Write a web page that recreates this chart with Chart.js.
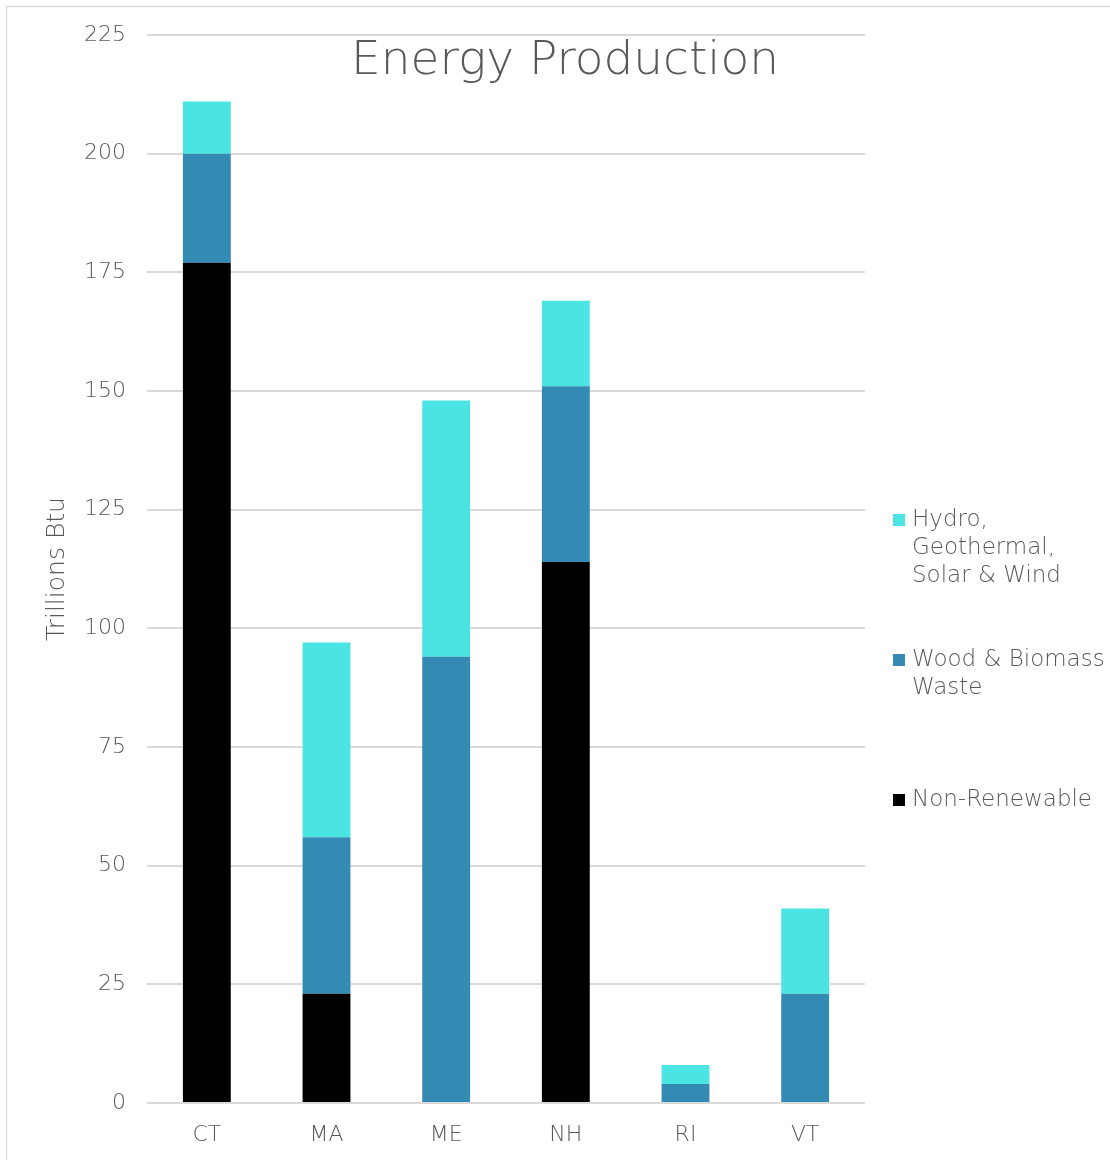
<!DOCTYPE html>
<html>
<head>
<meta charset="utf-8">
<title>Energy Production</title>
<script src="https://cdn.jsdelivr.net/npm/chart.js@4.4.1/dist/chart.umd.min.js"></script>
<style>
  html, body { margin: 0; padding: 0; background: #ffffff; }
  #wrap { width: 1110px; height: 1160px; position: relative; }
</style>
</head>
<body>
<div id="wrap"><canvas id="chart" width="1110" height="1160"></canvas></div>
<script>
// States along the x axis
const states = ["CT", "MA", "ME", "NH", "RI", "VT"];

// Production by source, trillions Btu
const nonRenewable = [177, 23, 0, 114, 0, 0];
const woodBiomass  = [23, 33, 94, 37, 4, 23];
const hydroEtc     = [11, 41, 54, 18, 4, 18];

// Series names (legend lines)
const seriesNames = {
  hydro: ["Hydro,", "Geothermal,", "Solar & Wind"],
  wood: ["Wood & Biomass", "Waste"],
  nonRenew: ["Non-Renewable"]
};

const chartTitle = "Energy Production";
const yAxisTitle = "Trillions Btu";

const FONT = "'DejaVu Sans', sans-serif";
const TEXT = "#595959";
const GRID = "#d9d9d9";

// Title drawn over the plot area, plus the right-hand legend and the frame
const decorations = {
  id: "decorations",
  afterDraw(chart) {
    const ctx = chart.ctx;
    const area = chart.chartArea;
    ctx.save();

    // frame (left and top edges)
    ctx.strokeStyle = "#dcdcdc";
    ctx.lineWidth = 1.5;
    ctx.beginPath();
    ctx.moveTo(6.5, 1160);
    ctx.lineTo(6.5, 6.5);
    ctx.lineTo(1110, 6.5);
    ctx.stroke();

    // title
    ctx.fillStyle = TEXT;
    ctx.font = "300 47px " + FONT;
    ctx.textAlign = "center";
    ctx.textBaseline = "alphabetic";
    ctx.fillText(chartTitle, (area.left + area.right) / 2 + 59, 74);

    // legend, reversed stacking order (top series first)
    const items = chart.data.datasets.slice().reverse();
    const x0 = area.right + 28;
    let y = 520;
    ctx.textAlign = "left";
    ctx.textBaseline = "middle";
    ctx.font = "300 23px " + FONT;
    items.forEach(ds => {
      ctx.fillStyle = ds.backgroundColor;
      ctx.fillRect(x0, y - 6, 12, 12);
      ctx.fillStyle = TEXT;
      ds.legendLines.forEach((line, i) => {
        ctx.fillText(line, x0 + 19, y + i * 28);
      });
      y += 140;
    });
    ctx.restore();
  }
};

new Chart(document.getElementById("chart"), {
  type: "bar",
  data: {
    labels: states,
    datasets: [
      { label: "Non-Renewable", legendLines: seriesNames.nonRenew, data: nonRenewable, backgroundColor: "#000000" },
      { label: "Wood & Biomass Waste", legendLines: seriesNames.wood, data: woodBiomass, backgroundColor: "#338ab3" },
      { label: "Hydro, Geothermal, Solar & Wind", legendLines: seriesNames.hydro, data: hydroEtc, backgroundColor: "#4ae4e3" }
    ]
  },
  options: {
    responsive: false,
    animation: false,
    devicePixelRatio: 1,
    layout: { padding: { top: 35, right: 245, left: 0, bottom: 0 } },
    datasets: {
      bar: { barPercentage: 0.4, categoryPercentage: 1.0, borderWidth: 0 }
    },
    plugins: {
      legend: { display: false },
      title: { display: false },
      tooltip: { enabled: false }
    },
    scales: {
      x: {
        stacked: true,
        grid: { display: false, drawTicks: false },
        border: { display: false },
        ticks: { color: TEXT, font: { family: FONT, size: 22, weight: 300 }, padding: 19 },
        afterFit(scale) { scale.height = 57; }
      },
      y: {
        stacked: true,
        min: 0,
        max: 225,
        ticks: { stepSize: 25, color: TEXT, font: { family: FONT, size: 22, weight: 300 }, padding: 21 },
        grid: { color: GRID, lineWidth: 2, drawTicks: false },
        border: { display: false },
        title: {
          display: true,
          text: yAxisTitle,
          color: TEXT,
          font: { family: FONT, size: 25, weight: 300 },
          padding: { top: 42, bottom: 0 }
        },
        afterFit(scale) { scale.width = 147; }
      }
    }
  },
  plugins: [decorations]
});
</script>
</body>
</html>
